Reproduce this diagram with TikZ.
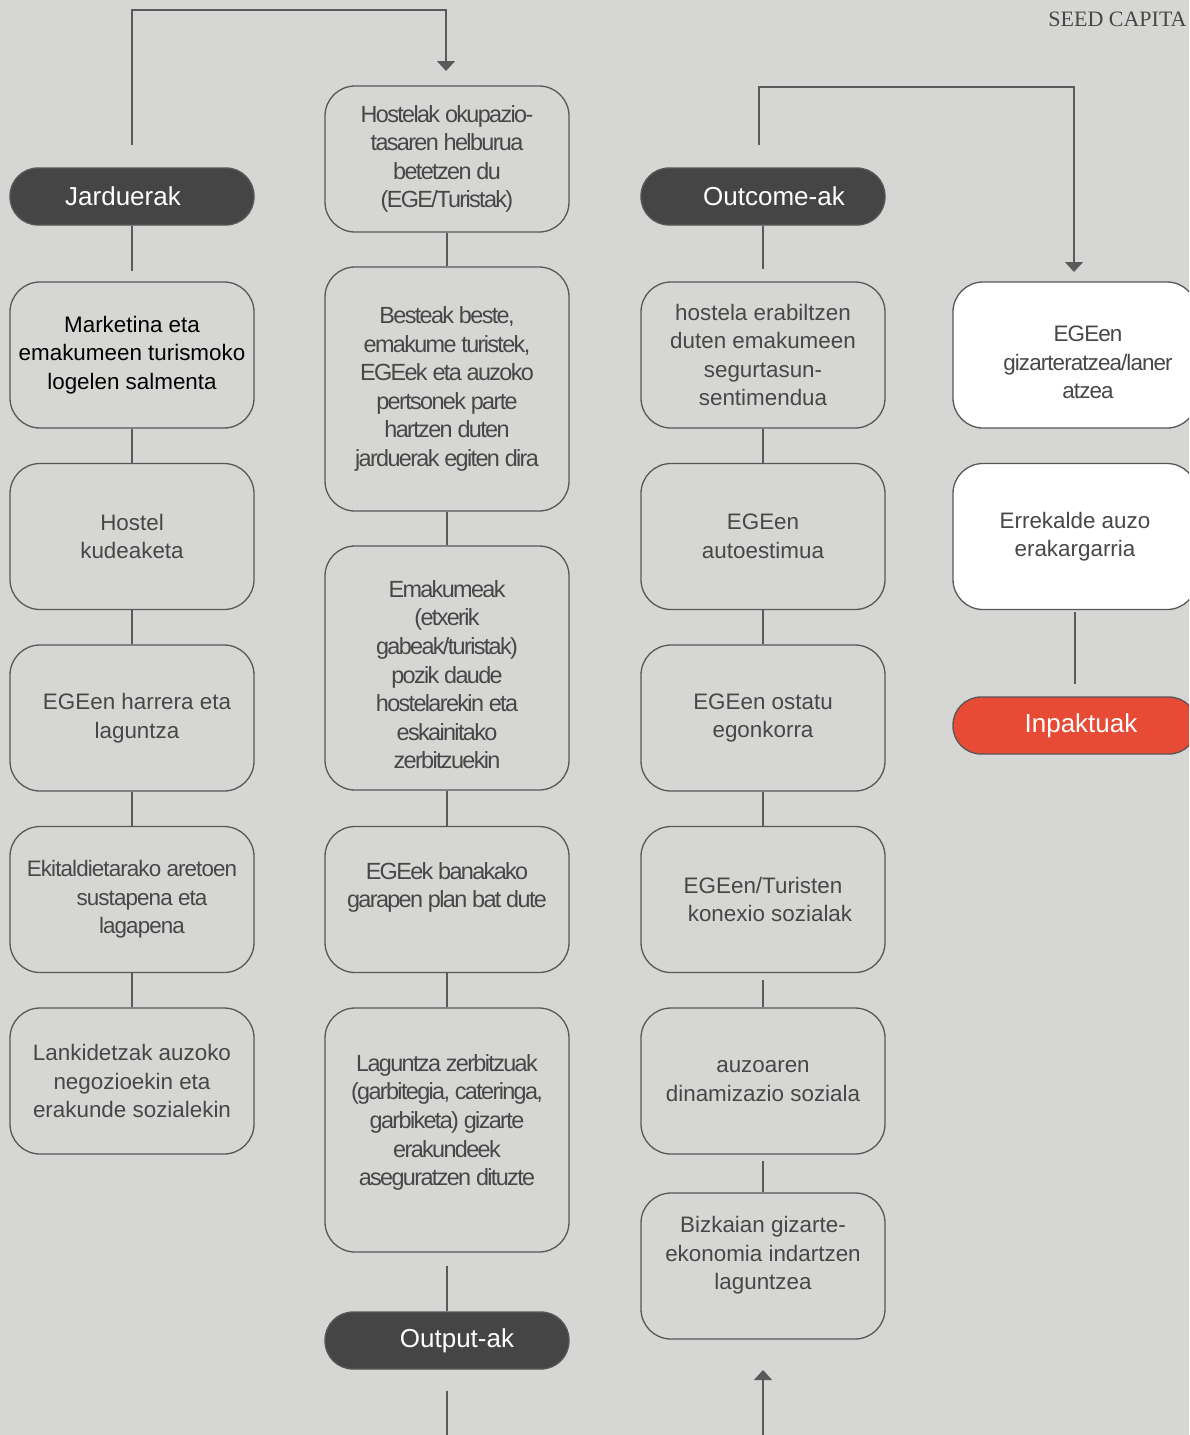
\documentclass[tikz,border=0pt]{standalone}
\usepackage{fontspec}
\setmainfont{Liberation Sans}
\newfontfamily\seedfont{Liberation Serif}
\newfontfamily\tightfont[LetterSpace=-7.0]{Liberation Sans}
\newfontfamily\narrowfont[LetterSpace=-4.0]{Liberation Sans}
\usetikzlibrary{arrows.meta}
\definecolor{bgback}{HTML}{D6D6D4}
\definecolor{pilldark}{HTML}{454545}
\definecolor{pillred}{HTML}{E84B35}
\definecolor{boxline}{HTML}{585858}
\definecolor{linegray}{HTML}{5A5A5A}
\definecolor{textgray}{HTML}{474747}
\begin{document}
\begin{tikzpicture}[x=0.5pt,y=-0.5pt]
        \tikzstyle{box}=[draw=boxline,line width=0.65pt,rounded corners=15pt,minimum width=122pt,minimum height=73pt,align=center,text=textgray,inner sep=2pt,font=\fontsize{11.2}{14.3}\selectfont]
        \tikzstyle{tallbox}=[box,minimum height=122pt,font=\tightfont\fontsize{11.7}{14.3}\selectfont]
        \tikzstyle{midbox}=[box,font=\tightfont\fontsize{11.7}{14.3}\selectfont]
        \tikzstyle{whitebox}=[box,fill=white]
        \tikzstyle{pill}=[draw=boxline,line width=0.65pt,fill=pilldark,text=white,rounded corners=14pt,minimum width=122pt,minimum height=28.5pt,font=\fontsize{13}{15}\selectfont]
        \tikzstyle{edge}=[draw=linegray,line width=0.75pt]
        \tikzstyle{arrowedge}=[edge,-{Triangle[width=9pt,length=5pt]}]
        \useasboundingbox (0,0) rectangle (1189,1435);
        \clip (0,0) rectangle (1189,1435);
        \fill[bgback] (0,0) rectangle (1189,1435);
        \node [anchor=base east,inner sep=0pt,text=textgray,font=\seedfont\fontsize{11}{12}\selectfont] (seed) at (1187,26) {SEED CAPITA};
       % Jarduerak
       \begin{scope}
         \node [pill] (jard) at (132,196.5) {Jarduerak\hspace*{9pt}};
         \node [box,text=black] (a1) at (132,355) {Marketina eta\\emakumeen turismoko\\logelen salmenta};
         \node [box] (a2) at (132,536.5) {Hostel\\kudeaketa};
         \node [box] (a3) at (132,718) {\hspace*{5pt}EGEen harrera eta\\\hspace*{5pt}laguntza};
         \node [box,font=\narrowfont\fontsize{11.2}{14.3}\selectfont] (a4) at (132,899.5) {Ekitaldietarako aretoen\\\hspace*{10pt}sustapena eta\\\hspace*{10pt}lagapena};
         \node [box] (a5) at (132,1081) {Lankidetzak auzoko\\negozioekin eta\\erakunde sozialekin};
         \path[edge] (jard) edge [shorten >=5pt] (a1);
         \path[edge] (a1) edge (a2);
         \path[edge] (a2) edge (a3);
         \path[edge] (a3) edge (a4);
         \path[edge] (a4) edge (a5);
       \end{scope}
       % Output-ak
       \begin{scope}
         \node [midbox] (o1) at (447,159) {Hostelak okupazio-\\tasaren helburua\\betetzen du\\(EGE/Turistak)};
         \node [tallbox] (o2) at (447,389) {Besteak beste,\\emakume turistek,\\EGEek eta auzoko\\pertsonek parte\\hartzen duten\\jarduerak egiten dira};
         \node [tallbox] (o3) at (447,668) {\mbox{}\\[1pt]Emakumeak\\(etxerik\\gabeak/turistak)\\pozik daude\\hostelarekin eta\\eskainitako\\zerbitzuekin};
         \node [midbox] (o4) at (447,899.5) {EGEek banakako\\garapen plan bat dute\\[0pt]};
         \node [tallbox] (o5) at (447,1130) {Laguntza zerbitzuak\\(garbitegia, cateringa,\\garbiketa) gizarte\\erakundeek\\aseguratzen dituzte\\[-4.3pt]};
         \node [pill] (outp) at (447,1340.5) {\hspace*{10pt}Output-ak};
         \coordinate (ob) at (447,1435);
         \path[edge] (o1) edge (o2);
         \path[edge] (o2) edge (o3);
         \path[edge] (o3) edge (o4);
         \path[edge] (o4) edge (o5);
         \path[edge] (o5) edge [shorten <=6.5pt] (outp);
         \path[edge] (outp) edge [shorten <=10.5pt] (ob);
       \end{scope}
       % Outcome-ak
       \begin{scope}
         \node [pill] (outc) at (763,196.5) {\hspace*{11pt}Outcome-ak};
         \node [box] (c1) at (763,355) {hostela erabiltzen\\duten emakumeen\\segurtasun-\\sentimendua};
         \node [box] (c2) at (763,536.5) {EGEen\\autoestimua};
         \node [box] (c3) at (763,718) {EGEen ostatu\\egonkorra};
         \node [box] (c4) at (763,899.5) {EGEen/Turisten\\\hspace*{7pt}konexio sozialak};
         \node [box] (c5) at (763,1081) {auzoaren\\dinamizazio soziala};
         \node [box] (c6) at (763,1266) {Bizkaian gizarte-\\ekonomia indartzen\\laguntzea\\[-1.3pt]};
         \coordinate (cb) at (763,1435);
         \coordinate (ct) at (763,1370);
         \path[edge] (outc) edge [shorten >=6pt] (c1);
         \path[edge] (c1) edge (c2);
         \path[edge] (c2) edge (c3);
         \path[edge] (c3) edge (c4);
         \path[edge] (c4) edge [shorten <=3.5pt] (c5);
         \path[edge] (c5) edge [shorten <=3pt] (c6);
         \draw[arrowedge] (cb) -- (ct);
       \end{scope}
       % Inpaktuak
       \begin{scope}
         \node [whitebox,font=\narrowfont\fontsize{11.2}{14.3}\selectfont] (i1) at (1075,355) {\mbox{}\\[1pt]\hspace*{13pt}EGEen\\\hspace*{13pt}gizarteratzea/laner\\\hspace*{13pt}atzea};
         \node [whitebox] (i2) at (1075,536.5) {Errekalde auzo\\erakargarria};
         \node [pill,fill=pillred] (inpa) at (1075,725.5) {\hspace*{6pt}Inpaktuak};
         \path[edge] (i2) edge [shorten <=1pt,shorten >=6pt] (inpa);
       \end{scope}
       % loops over the top
       \coordinate (la) at (132,145);
       \coordinate (lb) at (132,10);
       \coordinate (lc) at (446,10);
       \coordinate (ld) at (446,71);
       \draw[arrowedge] (la) -- (lb) -- (lc) -- (ld);
       \coordinate (ra) at (759,145);
       \coordinate (rb) at (759,87);
       \coordinate (rc) at (1074,87);
       \coordinate (rd) at (1074,272);
       \draw[arrowedge] (ra) -- (rb) -- (rc) -- (rd);
\end{tikzpicture}
\end{document}
